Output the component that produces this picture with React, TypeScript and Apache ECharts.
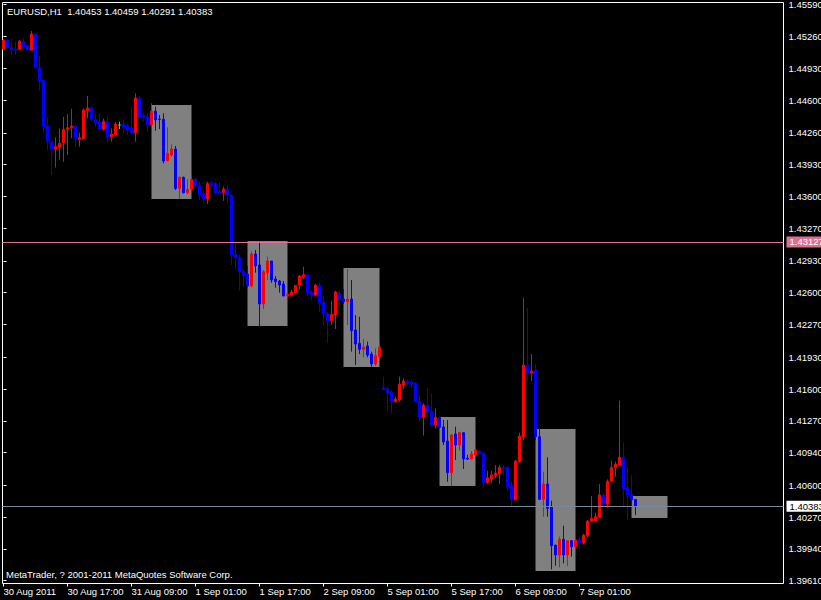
import React, { useEffect, useRef } from "react";
import * as echarts from "echarts";

// ---- data ----
const tickBars = [0, 16, 32, 48, 64, 80, 96, 112, 128, 144];
const tickLabels = [
  "30 Aug 2011", "30 Aug 17:00", "31 Aug 09:00", "1 Sep 01:00", "1 Sep 17:00",
  "2 Sep 09:00", "5 Sep 01:00", "5 Sep 17:00", "6 Sep 09:00", "7 Sep 01:00",
];
const priceTicks = [
  1.3961, 1.3994, 1.4027, 1.406, 1.4094, 1.4127, 1.416, 1.4193, 1.4227, 1.426,
  1.4293, 1.4327, 1.436, 1.4393, 1.4426, 1.446, 1.4493, 1.4526, 1.4559,
];

const opens = [
  1.45127, 1.45224, 1.45147, 1.45127, 1.45127, 1.45206, 1.45165, 1.45120, 1.45286, 1.44940,
  1.44808, 1.44331, 1.44168, 1.44088, 1.44106, 1.44158, 1.44296, 1.44313, 1.44331, 1.44192,
  1.44203, 1.44493, 1.44517, 1.44400, 1.44372, 1.44296, 1.44379, 1.44220, 1.44237, 1.44341,
  1.44351, 1.44334, 1.44313, 1.44261, 1.44621, 1.44445, 1.44427, 1.44344, 1.44486, 1.44403,
  1.44400, 1.43971, 1.44029, 1.44092, 1.43683, 1.43798, 1.43638, 1.43673, 1.43780, 1.43718,
  1.43631, 1.43573, 1.43742, 1.43735, 1.43649, 1.43638, 1.43676, 1.43614, 1.43002, 1.42967,
  1.42825, 1.42794, 1.42670, 1.43002, 1.42888, 1.42483, 1.42808, 1.42929, 1.42742, 1.42721,
  1.42690, 1.42566, 1.42576, 1.42600, 1.42676, 1.42759, 1.42787, 1.42607, 1.42576, 1.42680,
  1.42503, 1.42386, 1.42310, 1.42368, 1.42597, 1.42535, 1.42507, 1.42535, 1.42213, 1.42074,
  1.42012, 1.42047, 1.41963, 1.41860, 1.41936, 1.41611, 1.41600, 1.41566, 1.41469, 1.41486,
  1.41642, 1.41683, 1.41673, 1.41662, 1.41476, 1.41306, 1.41434, 1.41372, 1.41226, 1.41306,
  1.41206, 1.41060, 1.40731, 1.41133, 1.41019, 1.41147, 1.40880, 1.40873, 1.40915, 1.40956,
  1.40936, 1.40628, 1.40666, 1.40697, 1.40718, 1.40787, 1.40787, 1.40600, 1.40448, 1.40846,
  1.41105, 1.41849, 1.41770, 1.41797, 1.41105, 1.40455, 1.40614, 1.40378, 1.39980, 1.39877,
  1.40039, 1.39877, 1.40025, 1.39963, 1.40032, 1.40005, 1.40077, 1.40227, 1.40230, 1.40268,
  1.40500, 1.40403, 1.40645, 1.40783, 1.40811, 1.40891, 1.40576, 1.40507, 1.40453,
];
const highs = [
  1.45230, 1.45230, 1.45241, 1.45206, 1.45224, 1.45248, 1.45171, 1.45317, 1.45290, 1.45057,
  1.44812, 1.44420, 1.44175, 1.44213, 1.44306, 1.44427, 1.44455, 1.44511, 1.44341, 1.44261,
  1.44514, 1.44642, 1.44531, 1.44462, 1.44462, 1.44410, 1.44421, 1.44306, 1.44376, 1.44376,
  1.44400, 1.44358, 1.44531, 1.44670, 1.44642, 1.44469, 1.44469, 1.44566, 1.44531, 1.44445,
  1.44462, 1.44317, 1.44140, 1.44123, 1.43805, 1.43805, 1.43780, 1.43822, 1.43794, 1.43753,
  1.43666, 1.43753, 1.43753, 1.43753, 1.43753, 1.43701, 1.43718, 1.43624, 1.43106, 1.42998,
  1.42853, 1.42877, 1.43026, 1.43043, 1.43130, 1.42836, 1.42974, 1.42929, 1.42773, 1.42732,
  1.42721, 1.42628, 1.42628, 1.42680, 1.42784, 1.42870, 1.42794, 1.42628, 1.42690, 1.42715,
  1.42566, 1.42403, 1.42517, 1.42621, 1.42621, 1.42638, 1.42846, 1.42732, 1.42368, 1.42351,
  1.42119, 1.42092, 1.41988, 1.42022, 1.42109, 1.41728, 1.41617, 1.41590, 1.41521, 1.41728,
  1.41711, 1.41700, 1.41694, 1.41666, 1.41538, 1.41451, 1.41607, 1.41555, 1.41399, 1.41313,
  1.41278, 1.41278, 1.41133, 1.41209, 1.41157, 1.41147, 1.40918, 1.40956, 1.40977, 1.40967,
  1.40936, 1.40752, 1.40752, 1.40811, 1.40811, 1.40811, 1.40801, 1.40638, 1.40863, 1.41147,
  1.42548, 1.42445, 1.41963, 1.41860, 1.41192, 1.40742, 1.40891, 1.40441, 1.39980, 1.40067,
  1.40181, 1.40032, 1.40032, 1.40043, 1.40067, 1.40095, 1.40240, 1.40489, 1.40316, 1.40614,
  1.40517, 1.40662, 1.40856, 1.40846, 1.41479, 1.41043, 1.40794, 1.40707, 1.40459,
];
const lows = [
  1.45120, 1.45140, 1.45068, 1.45068, 1.45120, 1.45137, 1.45120, 1.45113, 1.44930, 1.44697,
  1.44254, 1.44081, 1.43822, 1.43901, 1.43984, 1.43960, 1.44029, 1.44203, 1.44116, 1.44116,
  1.44196, 1.44410, 1.44386, 1.44324, 1.44289, 1.44282, 1.44158, 1.44168, 1.44220, 1.44299,
  1.44261, 1.44237, 1.44254, 1.44168, 1.44421, 1.44376, 1.44272, 1.44331, 1.44282, 1.44299,
  1.43943, 1.43964, 1.44012, 1.43666, 1.43573, 1.43631, 1.43625, 1.43659, 1.43683, 1.43562,
  1.43528, 1.43521, 1.43701, 1.43625, 1.43625, 1.43555, 1.43521, 1.42888, 1.42846, 1.42621,
  1.42656, 1.42656, 1.42656, 1.42808, 1.42247, 1.42431, 1.42732, 1.42704, 1.42652, 1.42600,
  1.42566, 1.42548, 1.42559, 1.42593, 1.42635, 1.42742, 1.42566, 1.42524, 1.42566, 1.42403,
  1.42254, 1.42081, 1.42265, 1.42223, 1.42420, 1.42483, 1.42265, 1.41988, 1.41849, 1.41963,
  1.41929, 1.41929, 1.41832, 1.41842, 1.41891, 1.41590, 1.41365, 1.41348, 1.41458, 1.41469,
  1.41600, 1.41635, 1.41607, 1.41465, 1.41261, 1.41116, 1.41296, 1.41226, 1.41192, 1.41192,
  1.41019, 1.40638, 1.40593, 1.40863, 1.40960, 1.40770, 1.40863, 1.40873, 1.40898, 1.40925,
  1.40576, 1.40614, 1.40621, 1.40673, 1.40614, 1.40700, 1.40552, 1.40378, 1.40441, 1.40835,
  1.41064, 1.41676, 1.41683, 1.41071, 1.40448, 1.40275, 1.40275, 1.39728, 1.39766, 1.39749,
  1.39790, 1.39762, 1.39859, 1.39929, 1.39935, 1.39987, 1.40060, 1.40216, 1.40227, 1.40264,
  1.40396, 1.40368, 1.40631, 1.40690, 1.40811, 1.40372, 1.40240, 1.40378, 1.40291,
];
const closes = [
  1.45224, 1.45147, 1.45120, 1.45117, 1.45213, 1.45154, 1.45127, 1.45286, 1.44936, 1.44801,
  1.44324, 1.44168, 1.44088, 1.44116, 1.44151, 1.44296, 1.44313, 1.44331, 1.44203, 1.44209,
  1.44497, 1.44517, 1.44400, 1.44365, 1.44296, 1.44379, 1.44220, 1.44248, 1.44351, 1.44341,
  1.44313, 1.44289, 1.44261, 1.44621, 1.44427, 1.44417, 1.44341, 1.44486, 1.44393, 1.44400,
  1.43967, 1.44047, 1.44092, 1.43683, 1.43798, 1.43638, 1.43673, 1.43777, 1.43711, 1.43614,
  1.43573, 1.43735, 1.43718, 1.43638, 1.43638, 1.43676, 1.43614, 1.42991, 1.42964, 1.42818,
  1.42784, 1.42670, 1.43002, 1.42881, 1.42483, 1.42818, 1.42929, 1.42732, 1.42715, 1.42680,
  1.42566, 1.42586, 1.42607, 1.42676, 1.42773, 1.42787, 1.42600, 1.42576, 1.42680, 1.42496,
  1.42379, 1.42310, 1.42375, 1.42607, 1.42524, 1.42507, 1.42535, 1.42206, 1.42067, 1.42012,
  1.42036, 1.41953, 1.41860, 1.41946, 1.42036, 1.41600, 1.41562, 1.41469, 1.41496, 1.41652,
  1.41683, 1.41659, 1.41652, 1.41469, 1.41306, 1.41434, 1.41365, 1.41226, 1.41306, 1.41202,
  1.41050, 1.40731, 1.41123, 1.41019, 1.41147, 1.40873, 1.40873, 1.40925, 1.40967, 1.40932,
  1.40628, 1.40680, 1.40707, 1.40728, 1.40787, 1.40776, 1.40586, 1.40455, 1.40853, 1.41112,
  1.41849, 1.41770, 1.41787, 1.41105, 1.40455, 1.40614, 1.40361, 1.39974, 1.39877, 1.40039,
  1.39877, 1.40025, 1.39963, 1.40032, 1.40005, 1.40084, 1.40230, 1.40257, 1.40275, 1.40500,
  1.40406, 1.40645, 1.40787, 1.40821, 1.40891, 1.40562, 1.40500, 1.40448, 1.40383,
];

// rectangles drawn on the chart (bar index / price)
const boxStart = [37, 61, 85, 109, 133, 157];
const boxEnd = [47, 71, 94, 118, 143, 166];
const boxHigh = [1.44549, 1.43137, 1.42856, 1.41309, 1.41185, 1.40489];
const boxLow = [1.43573, 1.42254, 1.41829, 1.40593, 1.39711, 1.40261];

const levelPrice = 1.43127;
const bidPrice = 1.40383;

const headerText = "EURUSD,H1  1.40453 1.40459 1.40291 1.40383";
const footerText = "MetaTrader, ? 2001-2011 MetaQuotes Software Corp.";

const FONT = "Liberation Sans";
const FS = 9.5;

export default function App() {
  const ref = useRef<HTMLDivElement>(null);

  useEffect(() => {
    if (!ref.current) return;
    const chart = echarts.init(ref.current, null, { renderer: "svg" });
    const candles = opens.map((o, i) => [i, o, closes[i], lows[i], highs[i]]);

    chart.setOption({
      animation: false,
      backgroundColor: "#000000",
      grid: {
        left: 2.5,
        top: 2.5,
        right: 37.5,
        bottom: 16.5,
        show: true,
        backgroundColor: "#000000",
        borderColor: "#ffffff",
        borderWidth: 1,
        containLabel: false,
        outerBoundsMode: "none",
      },
      xAxis: {
        type: "value",
        min: -0.25,
        max: 195,
        splitLine: { show: false },
        axisLine: { show: false },
        axisTick: {
          show: true,
          customValues: tickBars,
          length: 3,
          lineStyle: { color: "#ffffff", width: 1 },
        },
        axisLabel: {
          show: true,
          customValues: tickBars,
          formatter: (v: number) => {
            const idx = tickBars.indexOf(Math.round(v));
            return idx >= 0 ? tickLabels[idx] : "";
          },
          color: "#ffffff",
          fontFamily: FONT,
          fontSize: FS,
          align: "left",
          margin: 3,
        },
      },
      yAxis: {
        type: "value",
        position: "right",
        min: 1.39581,
        max: 1.45613,
        splitLine: { show: false },
        axisLine: { show: false },
        axisTick: {
          show: true,
          customValues: priceTicks,
          length: 3,
          lineStyle: { color: "#ffffff", width: 1 },
        },
        axisLabel: {
          show: true,
          customValues: priceTicks,
          formatter: (v: number) => v.toFixed(5),
          color: "#ffffff",
          fontFamily: FONT,
          fontSize: FS,
          margin: 5,
        },
      },
      series: [
        {
          type: "candlestick",
          data: candles,
          barWidth: 2,
          clip: true,
          emphasis: { disabled: true },
          itemStyle: {
            color: "#ff0000",
            color0: "#0000ff",
            borderColor: "#ff0000",
            borderColor0: "#0000ff",
            borderColorDoji: "#00ff00",
            borderWidth: 1,
          },
          markArea: {
            silent: true,
            precision: 5,
            itemStyle: { color: "#808080", opacity: 1 },
            emphasis: { disabled: true },
            data: boxStart.map((s, i) => [
              { xAxis: s, yAxis: boxHigh[i] },
              { xAxis: boxEnd[i], yAxis: boxLow[i] },
            ]),
          },
          markLine: {
            silent: true,
            precision: 5,
            symbol: ["none", "none"],
            emphasis: { disabled: true },
            label: {
              show: true,
              position: "end",
              distance: 3,
              fontFamily: FONT,
              fontSize: FS,
              lineHeight: 10,
              padding: [1, 4, 0, 3],
            },
            data: [
              {
                yAxis: levelPrice,
                lineStyle: { color: "#db7093", width: 1, type: "solid" },
                label: {
                  formatter: levelPrice.toFixed(5),
                  backgroundColor: "#db7093",
                  color: "#ffffff",
                },
              },
              {
                yAxis: bidPrice,
                lineStyle: { color: "#778899", width: 1, type: "solid" },
                label: {
                  formatter: bidPrice.toFixed(5),
                  backgroundColor: "#ffffff",
                  color: "#000000",
                },
              },
            ],
          },
        },
      ],
      graphic: [
        {
          type: "text",
          x: 7,
          y: 11,
          silent: true,
          style: {
            text: headerText,
            fill: "#ffffff",
            fontFamily: FONT,
            fontSize: FS,
            verticalAlign: "middle",
          },
        },
        {
          type: "text",
          x: 6,
          y: 574,
          silent: true,
          style: {
            text: footerText,
            fill: "#ffffff",
            fontFamily: FONT,
            fontSize: FS,
            verticalAlign: "middle",
          },
        },
      ],
    });

    return () => {
      chart.dispose();
    };
  }, []);

  return (
    <div
      ref={ref}
      style={{
        position: "absolute",
        left: 0,
        top: 0,
        width: 821,
        height: 600,
        background: "#000000",
      }}
    />
  );
}
